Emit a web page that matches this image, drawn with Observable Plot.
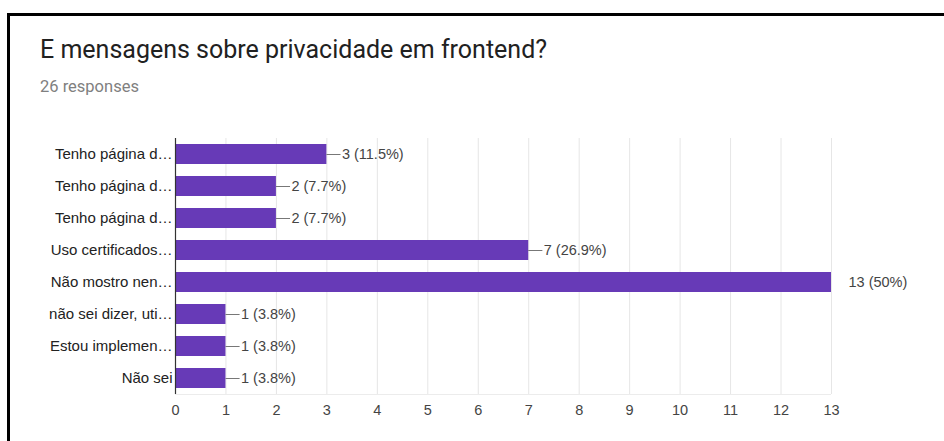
<!DOCTYPE html>
<html>
<head>
<meta charset="utf-8">
<script src="https://cdn.jsdelivr.net/npm/d3@7"></script>
<script src="https://cdn.jsdelivr.net/npm/@observablehq/plot@0.6"></script>
<style>
  html, body { margin: 0; padding: 0; background: #fff; }
  #wrap { position: relative; width: 944px; height: 441px; overflow: hidden; }
  #border { position: absolute; left: 7px; top: 13px; width: 937px; height: 428px; box-sizing: border-box; border-left: 3px solid #000; border-top: 3px solid #000; }
  #title { position: absolute; left: 40px; top: 36.7px; font-family: Roboto, "Liberation Sans", sans-serif; font-size: 25px; line-height: 1; color: #212121; white-space: nowrap; }
  #subtitle { position: absolute; left: 40px; top: 78.6px; font-family: Roboto, "Liberation Sans", sans-serif; font-size: 16.5px; line-height: 1; color: #808080; white-space: nowrap; }
  #chart { position: absolute; left: 0; top: 0; }
</style>
</head>
<body>
<div id="wrap">
  <div id="border"></div>
  <div id="title">E mensagens sobre privacidade em frontend?</div>
  <div id="subtitle">26 responses</div>
  <div id="chart"></div>
</div>
<script>
const categories = [
  "Tenho página d…",
  "Tenho página d…",
  "Tenho página d…",
  "Uso certificados…",
  "Não mostro nen…",
  "não sei dizer, uti…",
  "Estou implemen…",
  "Não sei"
];
const counts = [3, 2, 2, 7, 13, 1, 1, 1];
const totalResponses = 26;
const xTicks = [0,1,2,3,4,5,6,7,8,9,10,11,12,13];

const maxCount = d3.max(counts);
const data = categories.map((c, i) => ({
  i, cat: c, v: counts[i],
  label: `${counts[i]} (${Number((counts[i] / totalResponses * 100).toFixed(1))}%)`
}));

const plot = Plot.plot({
  width: 944,
  height: 441,
  marginLeft: 175,
  marginRight: 113,
  marginTop: 138,
  marginBottom: 47,
  style: { fontFamily: "'Liberation Sans', Arial, sans-serif", fontSize: "14px", color: "#444", background: "transparent" },
  x: { domain: [0, 13], ticks: xTicks, label: null },
  y: { domain: d3.range(categories.length), paddingInner: 0.375, paddingOuter: 0.1875, label: null },
  marks: [
    Plot.gridX(xTicks, { stroke: "#e6e6e6", strokeOpacity: 1 }),
    Plot.ruleY([categories.length - 1], { stroke: "#ececec", dy: 16 }),
    Plot.barX(data, { x: "v", y: "i", fill: "#673ab7" }),
    Plot.ruleX([0], { stroke: "#333", strokeWidth: 1.2 }),
    Plot.ruleY(data.filter(d => d.v < maxCount), { y: "i", x1: "v", x2: d => d.v + 0.28, stroke: "#777" }),
    Plot.text(data.filter(d => d.v < maxCount), { x: "v", y: "i", text: "label", dx: 15, textAnchor: "start", fill: "#444", fontSize: 14.5 }),
    Plot.text(data.filter(d => d.v === maxCount), { x: "v", y: "i", text: "label", dx: 17, textAnchor: "start", fill: "#444", fontSize: 14.5 }),
    Plot.axisX({ ticks: xTicks, tickSize: 0, tickPadding: 10, fontSize: 14.5, fill: "#444", label: null }),
    Plot.axisY({ tickSize: 0, tickPadding: 3, fontSize: 15, fill: "#222", tickFormat: i => categories[i], label: null })
  ]
});
document.getElementById("chart").appendChild(plot);
</script>
</body>
</html>
